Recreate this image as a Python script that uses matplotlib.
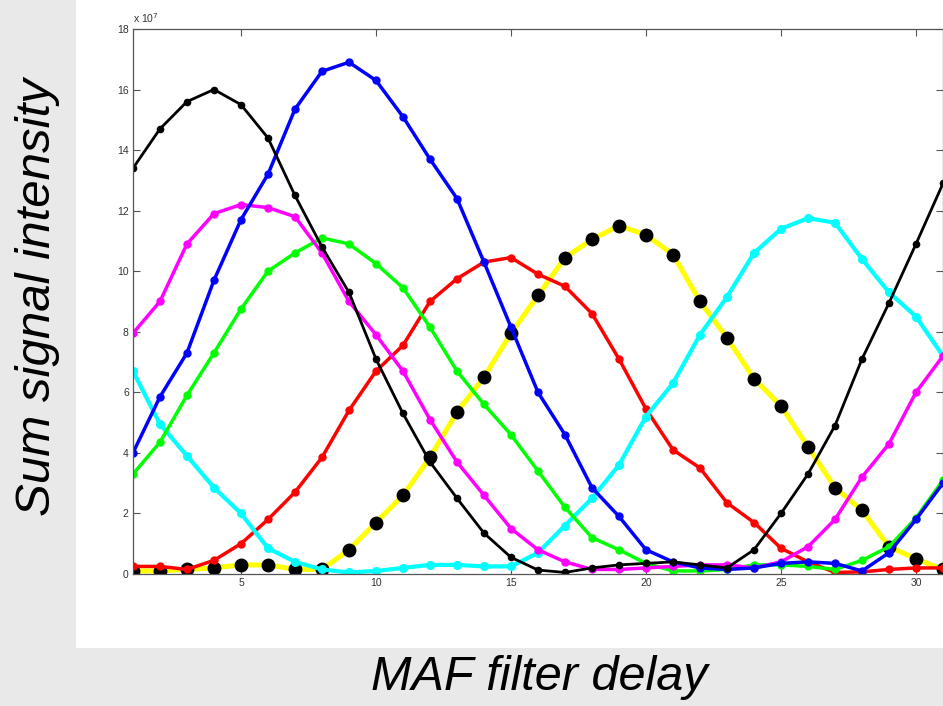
import numpy as np
import matplotlib.pyplot as plt
from matplotlib.patches import Rectangle

plt.rcParams['font.family'] = ['Liberation Sans', 'DejaVu Sans']

# MAF filter delay
delay = list(range(1, 32))

# sum signal intensity, in units of 1e7
black = [13.4, 14.7, 15.6, 16.0, 15.5, 14.4, 12.5, 10.8, 9.3, 7.1, 5.3, 3.7, 2.5, 1.35, 0.55, 0.13,
         0.05, 0.2, 0.3, 0.35, 0.4, 0.3, 0.2, 0.8, 2.0, 3.3, 4.9, 7.1, 8.95, 10.9, 12.9]
blue = [4.0, 5.85, 7.3, 9.7, 11.7, 13.2, 15.35, 16.6, 16.9, 16.3, 15.1, 13.7, 12.4, 10.3, 8.15, 6.0,
        4.6, 2.85, 1.9, 0.8, 0.4, 0.2, 0.15, 0.2, 0.35, 0.4, 0.35, 0.1, 0.7, 1.8, 3.0]
magenta = [7.95, 9.0, 10.9, 11.9, 12.2, 12.1, 11.8, 10.6, 9.0, 7.9, 6.7, 5.1, 3.7, 2.6, 1.5, 0.8,
           0.4, 0.15, 0.15, 0.2, 0.25, 0.3, 0.3, 0.2, 0.4, 0.9, 1.8, 3.2, 4.3, 6.0, 7.2]
green = [3.3, 4.35, 5.9, 7.3, 8.75, 10.0, 10.6, 11.1, 10.9, 10.25, 9.45, 8.15, 6.7, 5.6, 4.6, 3.4,
         2.2, 1.2, 0.8, 0.35, 0.1, 0.1, 0.15, 0.3, 0.3, 0.25, 0.15, 0.45, 0.9, 1.85, 3.1]
cyan = [6.7, 4.95, 3.9, 2.85, 2.0, 0.85, 0.4, 0.15, 0.05, 0.1, 0.2, 0.3, 0.3, 0.25, 0.25, 0.7,
        1.6, 2.5, 3.6, 5.2, 6.3, 7.9, 9.15, 10.6, 11.4, 11.75, 11.6, 10.4, 9.3, 8.5, 7.2]
red = [0.25, 0.25, 0.15, 0.45, 1.0, 1.8, 2.7, 3.85, 5.4, 6.7, 7.55, 9.0, 9.75, 10.3, 10.45, 9.9,
       9.5, 8.6, 7.1, 5.45, 4.1, 3.5, 2.35, 1.7, 0.85, 0.4, 0.05, 0.07, 0.15, 0.2, 0.2]
yellow = [0.1, 0.1, 0.15, 0.2, 0.3, 0.3, 0.15, 0.15, 0.8, 1.7, 2.6, 3.85, 5.35, 6.5, 7.95, 9.2,
          10.45, 11.05, 11.5, 11.2, 10.55, 9.0, 7.8, 6.45, 5.55, 4.2, 2.85, 2.1, 0.9, 0.5, 0.15]

fig = plt.figure(figsize=(9.43, 7.06), dpi=100, facecolor='#e9e9e9')
# white figure area behind the axes
fig.patches.append(Rectangle((0.0806, 0.0822), 0.9194, 0.9178, transform=fig.transFigure,
                             facecolor='white', edgecolor='none', zorder=-1))
ax = fig.add_axes([0.141, 0.187, 0.859, 0.772])

ax.plot(delay, yellow, '-o', color='#ffff00', lw=3.6, mfc='black', mec='black', ms=9)
ax.plot(delay, red, '-o', color='#ff0000', lw=2.5, ms=5)
ax.plot(delay, cyan, '-o', color='#00ffff', lw=3.0, ms=5.5)
ax.plot(delay, green, '-o', color='#00ff00', lw=2.5, ms=5)
ax.plot(delay, magenta, '-o', color='#ff00ff', lw=2.5, ms=5)
ax.plot(delay, blue, '-o', color='#0000ff', lw=2.5, ms=5)
ax.plot(delay, black, '-o', color='black', lw=2.0, ms=4.5)

ax.set_xlim(1, 31)
ax.set_ylim(0, 18)
ax.set_xticks(range(5, 31, 5))
ax.set_yticks(range(0, 19, 2))
ax.tick_params(direction='in', length=5, width=0.8, color='#555555', labelcolor='#333333',
               labelsize=7.5, top=True, right=True, pad=3)
for s in ax.spines.values():
    s.set_color('#555555')
    s.set_linewidth(0.9)
ax.text(0.0, 1.008, r'x 10$^7$', transform=ax.transAxes, fontsize=7.5, color='#333333',
        ha='left', va='bottom')

fig.text(0.04, 0.579, 'Sum signal intensity', rotation=90, style='italic', fontsize=35.5,
         ha='center', va='center')
fig.text(0.572, 0.04, 'MAF filter delay', style='italic', fontsize=35,
         ha='center', va='center')

fig.savefig('out.png', dpi=100, facecolor=fig.get_facecolor())
